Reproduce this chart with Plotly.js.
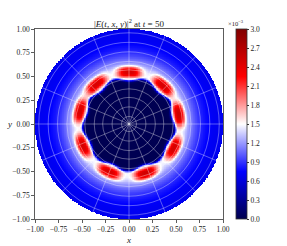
<!DOCTYPE html>
<html><head><meta charset="utf-8">
<script src="https://cdn.plot.ly/plotly-3.0.1.min.js"></script>
<style>html,body{margin:0;padding:0;background:#fff}#plot{width:287px;height:246px}</style>
</head><body><div id="plot"></div>
<script>
// ---- values (|E|^2 in units of 1e-3) ----
const lobeAngles = [90, 48, 11, -28, -71, -113, -155, 165, 130];      // degrees
const lobeRadii  = [0.55, 0.545, 0.54, 0.54, 0.55, 0.55, 0.545, 0.545, 0.55];
const lobePeaks  = [1.05, 1.05, 1.1, 1.05, 1.1, 1.05, 1.05, 1.05, 1.05]; // added above background
const profileR = [0.44, 0.50, 0.55, 0.60, 0.65, 0.70, 0.75, 0.80, 0.85, 0.90, 1.00];
const profileV = [1.55, 1.50, 1.42, 1.30, 1.15, 1.00, 0.88, 0.80, 0.74, 0.70, 0.68];
const innerValue = 0.02;
const boundaryBetween = 0.495;  // inner dark region radius between lobes
const boundaryAtLobe  = 0.455;  // inner dark region radius at lobe angles
const gridCircles = [0.08, 0.18, 0.28, 0.37, 0.47, 0.57, 0.66, 0.76, 0.86, 0.96];
const gridSpokes = [0, 22.5, 45, 67.5, 90, 112.5, 135, 157.5, 180, 202.5, 225, 247.5, 270, 292.5, 315, 337.5];
const axisTicks = [-1, -0.75, -0.5, -0.25, 0, 0.25, 0.5, 0.75, 1];
const cbTicks = [0, 0.3, 0.6, 0.9, 1.2, 1.5, 1.8, 2.1, 2.4, 2.7, 3.0];

function interp(xs, ys, x) {
  if (x <= xs[0]) return ys[0];
  for (let i = 1; i < xs.length; i++) {
    if (x <= xs[i]) { const t = (x - xs[i-1]) / (xs[i] - xs[i-1]); return ys[i-1] + t * (ys[i] - ys[i-1]); }
  }
  return ys[ys.length - 1];
}
function angDiff(a, b) { let d = a - b; while (d > 180) d -= 360; while (d < -180) d += 360; return d; }

const N = 281;
const xs = [], ys = [];
for (let i = 0; i < N; i++) { xs.push(-1 + 2 * i / (N - 1)); ys.push(-1 + 2 * i / (N - 1)); }
const z = [];
for (let j = 0; j < N; j++) {
  const row = [];
  for (let i = 0; i < N; i++) {
    const x = xs[i], y = ys[j];
    const r = Math.hypot(x, y);
    if (r > 1.0) { row.push(null); continue; }
    const th = Math.atan2(y, x) * 180 / Math.PI;
    let bg = interp(profileR, profileV, r);
    let dmin = 180, lobes = 0;
    for (let k = 0; k < lobeAngles.length; k++) {
      const d = angDiff(th, lobeAngles[k]);
      dmin = Math.min(dmin, Math.abs(d));
      const dr = Math.abs(r - lobeRadii[k]) / 0.057;
      const da = Math.abs(d) / 13.5;
      lobes += lobePeaks[k] * Math.exp(-Math.pow(dr, 3) - Math.pow(da, 3));
    }
    const u = Math.min(dmin, 20) / 20;
    const b = boundaryAtLobe + (boundaryBetween - boundaryAtLobe) * (1 - Math.cos(Math.PI * u)) / 2;
    const s = 1 / (1 + Math.exp((r - b) / 0.008));
    row.push(s * innerValue + (1 - s) * (bg + lobes));
  }
  z.push(row);
}

const seismic = [[0, 'rgb(0,0,77)'], [0.25, 'rgb(0,0,255)'], [0.5, 'rgb(255,255,255)'], [0.75, 'rgb(255,0,0)'], [1, 'rgb(128,0,0)']];

const shapes = [];
const gc = 'rgba(255,255,255,0.5)';
gridCircles.forEach(r => shapes.push({type: 'circle', xref: 'x', yref: 'y', x0: -r, x1: r, y0: -r, y1: r, line: {color: gc, width: 0.7}, layer: 'above'}));
gridSpokes.forEach(a => {
  const t = a * Math.PI / 180;
  shapes.push({type: 'line', xref: 'x', yref: 'y', x0: 0, y0: 0, x1: Math.cos(t), y1: Math.sin(t), line: {color: gc, width: 0.7}, layer: 'above'});
});

const font = {family: '"Liberation Serif", "DejaVu Serif", serif', size: 7.5, color: '#222'};
const trace = {
  type: 'heatmap', x: xs, y: ys, z: z, zmin: 0, zmax: 3, colorscale: seismic, zsmooth: false,
  hoverinfo: 'skip',
  colorbar: {
    x: 1.069, xanchor: 'left', xpad: 0, y: 0.5, yanchor: 'middle', len: 1, lenmode: 'fraction', ypad: 0,
    thickness: 11, thicknessmode: 'pixels', outlinewidth: 0.8, outlinecolor: '#333',
    tickvals: cbTicks, ticktext: cbTicks.map(v => v.toFixed(1)), ticks: 'outside', ticklen: 2, tickcolor: '#333',
    tickfont: font
  }
};
const layout = {
  width: 287, height: 246,
  margin: {l: 35, r: 64, t: 29, b: 27},
  paper_bgcolor: '#fff', plot_bgcolor: '#fff',
  font: font,
  showlegend: false,
  title: {text: '|<i>E</i>(<i>t</i>, <i>x</i>, <i>y</i>)|<sup>2</sup> at <i>t</i> = 50', x: 0.5, xref: 'paper', xanchor: 'center', y: 0.902, yref: 'container', yanchor: 'middle', font: {family: font.family, size: 9, color: '#222'}},
  xaxis: {range: [-1, 1], tickvals: axisTicks, ticktext: axisTicks.map(v => v.toFixed(2).replace('-', '\u2212')), ticks: 'outside', ticklen: 3, tickwidth: 0.8, tickcolor: '#333',
    showgrid: false, zeroline: false, showline: true, linecolor: '#333', linewidth: 0.8, mirror: true,
    title: {text: '<i>x</i>', standoff: 3, font: {family: font.family, size: 9, color: '#222'}}, automargin: false, fixedrange: true},
  yaxis: {range: [-1, 1], tickvals: axisTicks, ticktext: axisTicks.map(v => v.toFixed(2).replace('-', '\u2212')), ticks: 'outside', ticklen: 3, tickwidth: 0.8, tickcolor: '#333',
    showgrid: false, zeroline: false, showline: true, linecolor: '#333', linewidth: 0.8, mirror: true, automargin: false, fixedrange: true},
  shapes: shapes,
  annotations: [
    {text: '<i>y</i>', xref: 'paper', yref: 'paper', x: (9 - 35) / 188, y: 0.5, xanchor: 'center', yanchor: 'middle', showarrow: false, font: {family: font.family, size: 9, color: '#222'}},
    {text: '\u00d710<sup>\u22123</sup>', xref: 'paper', yref: 'paper', x: (226 - 35) / 188, y: 1.0, xanchor: 'left', yanchor: 'bottom', showarrow: false, font: {family: font.family, size: 6.5, color: '#222'}}
  ]
};
Plotly.newPlot('plot', [trace], layout, {staticPlot: true, displayModeBar: false});
</script></body></html>
